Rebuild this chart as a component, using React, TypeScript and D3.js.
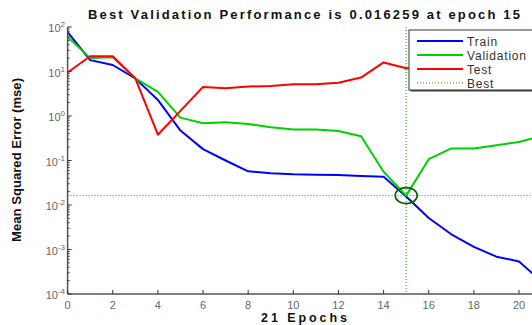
import { useEffect, useRef } from 'react'
import * as d3 from 'd3'

const epochs = d3.range(0, 22)
const trainMse = [77, 18, 14, 7, 2.3, 0.47, 0.18, 0.1, 0.057, 0.052, 0.049, 0.048, 0.047, 0.045, 0.043, 0.0155, 0.0051, 0.0022, 0.00115, 0.00069, 0.00054, 0.00019]
const validationMse = [60, 20, 21, 7, 3.5, 0.92, 0.69, 0.72, 0.66, 0.56, 0.5, 0.5, 0.46, 0.35, 0.056, 0.016259, 0.107, 0.187, 0.187, 0.22, 0.26, 0.36]
const testMse = [9.5, 22, 22, 7, 0.38, 1.3, 4.5, 4.2, 4.6, 4.7, 5.2, 5.2, 5.6, 7.3, 16, 11.8, 12, 12.5, 13, 13, 13.5, 14]
const xTicks = [0, 2, 4, 6, 8, 10, 12, 14, 16, 18, 20]
const yExponents = [2, 1, 0, -1, -2, -3, -4]
const bestEpoch = 15
const bestValue = 0.016259

const series = [
  { name: 'Train', values: trainMse, color: '#0000ff' },
  { name: 'Validation', values: validationMse, color: '#00d000' },
  { name: 'Test', values: testMse, color: '#ff0000' }
]

const W = 532
const H = 325
const FONT = '"Liberation Sans", Arial, sans-serif'

export default function App() {
  const svgRef = useRef<SVGSVGElement>(null)

  useEffect(() => {
    if (!svgRef.current) return
    const svg = d3.select(svgRef.current)
    svg.selectAll('*').remove()

    const x = d3.scaleLinear().domain([0, 21]).range([67.6, 541.6])
    const y = d3.scaleLog().domain([1e-4, 1e2]).range([294, 27])

    svg.append('rect').attr('width', W).attr('height', H).attr('fill', '#fff')

    const plot = svg.append('g')

    // best markers (behind lines)
    const bestColor = '#00a800'
    plot.append('line')
      .attr('x1', x(bestEpoch)).attr('x2', x(bestEpoch))
      .attr('y1', y(1e2)).attr('y2', y(1e-4))
      .attr('stroke', bestColor).attr('stroke-width', 1).attr('stroke-dasharray', '1,2')
    plot.append('line')
      .attr('x1', x(0)).attr('x2', x(21))
      .attr('y1', y(bestValue)).attr('y2', y(bestValue))
      .attr('stroke', bestColor).attr('stroke-width', 1).attr('stroke-dasharray', '1,2')

    const line = d3.line<number>()
      .x((_, i) => x(epochs[i]))
      .y(d => y(d))

    series.forEach(s => {
      plot.append('path')
        .attr('d', line(s.values) || '')
        .attr('fill', 'none')
        .attr('stroke', s.color)
        .attr('stroke-width', 2)
        .attr('stroke-linejoin', 'round')
    })

    plot.append('ellipse')
      .attr('cx', x(bestEpoch)).attr('cy', y(bestValue))
      .attr('rx', 11).attr('ry', 8)
      .attr('fill', 'none').attr('stroke', '#006000').attr('stroke-width', 1.6)

    // axes
    const axisColor = '#555'
    svg.append('line')
      .attr('x1', x(0)).attr('x2', x(0)).attr('y1', y(1e2)).attr('y2', y(1e-4))
      .attr('stroke', axisColor).attr('stroke-width', 1.5)
    svg.append('line')
      .attr('x1', x(0)).attr('x2', W).attr('y1', y(1e-4)).attr('y2', y(1e-4))
      .attr('stroke', axisColor).attr('stroke-width', 1.5)

    // log minor ticks
    y.ticks().forEach(v => {
      const major = Math.abs(Math.log10(v) - Math.round(Math.log10(v))) < 1e-9
      svg.append('line')
        .attr('x1', x(0)).attr('x2', x(0) + (major ? 4 : 2))
        .attr('y1', y(v)).attr('y2', y(v))
        .attr('stroke', '#333').attr('stroke-width', 1)
    })

    yExponents.forEach(e => {
      const t = svg.append('text')
        .attr('x', 65).attr('y', y(Math.pow(10, e)) + 5)
        .attr('text-anchor', 'end')
        .style('font-family', FONT).style('font-size', '11px').style('fill', '#666')
      t.append('tspan').text('10')
      t.append('tspan').attr('dy', -5).style('font-size', '8px').text(String(e))
    })

    xTicks.forEach(v => {
      svg.append('line')
        .attr('x1', x(v)).attr('x2', x(v)).attr('y1', y(1e-4)).attr('y2', y(1e-4) - 4)
        .attr('stroke', '#333').attr('stroke-width', 1)
      svg.append('text')
        .attr('x', x(v)).attr('y', 309)
        .attr('text-anchor', 'middle')
        .style('font-family', FONT).style('font-size', '11px').style('fill', '#666')
        .text(v)
    })

    // titles
    svg.append('text')
      .attr('x', 304).attr('y', 19)
      .attr('text-anchor', 'middle')
      .attr('textLength', 432).attr('lengthAdjust', 'spacing')
      .style('font-family', FONT).style('font-size', '13px').style('font-weight', 'bold').style('fill', '#111')
      .text(`Best Validation Performance is ${bestValue} at epoch ${bestEpoch}`)

    svg.append('text')
      .attr('x', 304).attr('y', 322)
      .attr('text-anchor', 'middle')
      .attr('textLength', 86).attr('lengthAdjust', 'spacing')
      .style('font-family', FONT).style('font-size', '12.5px').style('font-weight', 'bold').style('fill', '#111')
      .text(`${epochs.length - 1} Epochs`)

    svg.append('text')
      .attr('transform', 'translate(21,160) rotate(-90)')
      .attr('text-anchor', 'middle')
      .attr('textLength', 164).attr('lengthAdjust', 'spacingAndGlyphs')
      .style('font-family', FONT).style('font-size', '13px').style('font-weight', 'bold').style('fill', '#111')
      .text('Mean Squared Error (mse)')

    // legend
    const lg = svg.append('g').attr('transform', 'translate(409,30)')
    lg.append('rect').attr('x', 1.5).attr('y', 1.5).attr('width', 130).attr('height', 60)
      .attr('fill', '#444')
    lg.append('rect').attr('width', 130).attr('height', 60)
      .attr('fill', '#fff').attr('stroke', '#333').attr('stroke-width', 1)
    const entries = [
      ...series.map(s => ({ name: s.name, color: s.color, dash: null as string | null })),
      { name: 'Best', color: bestColor, dash: '1,2' }
    ]
    entries.forEach((e, i) => {
      const yy = 11 + i * 14
      lg.append('line')
        .attr('x1', 8).attr('x2', 54).attr('y1', yy).attr('y2', yy)
        .attr('stroke', e.color).attr('stroke-width', e.dash ? 1 : 2)
        .attr('stroke-dasharray', e.dash)
      lg.append('text')
        .attr('x', 58).attr('y', yy + 4.5)
        .style('font-family', FONT).style('font-size', '12px').style('fill', '#333')
        .style('letter-spacing', '0.8px')
        .text(e.name)
    })
  }, [])

  return (
    <svg ref={svgRef} width={W} height={H}
      style={{ position: 'absolute', left: 0, top: 0, display: 'block' }} />
  )
}
